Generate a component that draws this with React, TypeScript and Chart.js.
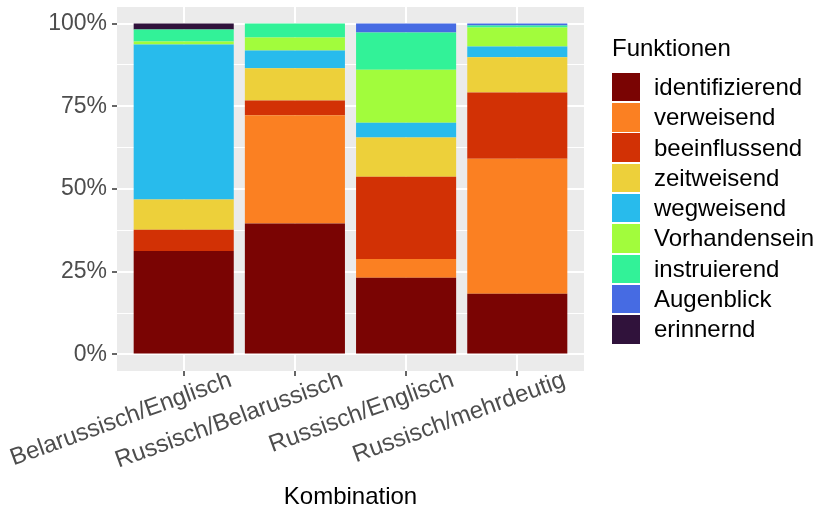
import React, { useEffect, useRef } from 'react';
import { Chart, registerables } from 'chart.js';

Chart.register(...registerables);

const categories = ['Belarussisch/Englisch', 'Russisch/Belarussisch', 'Russisch/Englisch', 'Russisch/mehrdeutig'];
const functionNames = ['identifizierend', 'verweisend', 'beeinflussend', 'zeitweisend', 'wegweisend', 'Vorhandensein', 'instruierend', 'Augenblick', 'erinnernd'];
const functionColors = ['#7A0403', '#FB8022', '#D23105', '#EDD03A', '#28BBEC', '#A2FC3C', '#32F298', '#466BE3', '#30123B'];

// share (%) of each function per combination, bottom to top of the stack
const identifizierend = [31.3, 39.5, 23.1, 18.3];
const verweisend = [0, 32.7, 5.7, 40.8];
const beeinflussend = [6.4, 4.5, 24.8, 20.0];
const zeitweisend = [9.1, 9.7, 11.8, 10.6];
const wegweisend = [46.9, 5.4, 4.5, 3.3];
const vorhandensein = [0.9, 3.9, 16.0, 5.7];
const instruierend = [3.6, 4.2, 11.2, 0.6];
const augenblick = [0, 0, 2.7, 0.6];
const erinnernd = [1.8, 0, 0, 0];

const seriesValues = [identifizierend, verweisend, beeinflussend, zeitweisend, wegweisend, vorhandensein, instruierend, augenblick, erinnernd];

const yMajorTicks = [0, 25, 50, 75, 100];
const yMinorTicks = [12.5, 37.5, 62.5, 87.5];

const FONT = '"Liberation Sans", Arial, Helvetica, sans-serif';

const panelBg = {
  id: 'panelBg',
  beforeDraw(chart: any) {
    const { ctx, chartArea } = chart;
    if (!chartArea) return;
    ctx.save();
    ctx.fillStyle = '#EBEBEB';
    ctx.fillRect(chartArea.left, chartArea.top, chartArea.right - chartArea.left, chartArea.bottom - chartArea.top);
    ctx.restore();
  },
};

export default function App() {
  const canvasRef = useRef<HTMLCanvasElement | null>(null);

  useEffect(() => {
    if (!canvasRef.current) return;
    const totals = categories.map((_, i) => seriesValues.reduce((s, arr) => s + arr[i], 0));
    const datasets = functionNames.map((name, k) => ({
      label: name,
      data: categories.map((_, i) => ({ x: i + 1, y: (seriesValues[k][i] / totals[i]) * 100 })),
      backgroundColor: functionColors[k],
      borderWidth: 0,
      barPercentage: 0.9,
      categoryPercentage: 1,
    }));
    const isMajor = (v: number) => yMajorTicks.includes(v);

    const chart = new Chart(canvasRef.current, {
      type: 'bar',
      data: { datasets },
      plugins: [panelBg],
      options: {
        animation: false,
        responsive: false,
        devicePixelRatio: 1,
        layout: { padding: { left: 0, right: 237, top: 7, bottom: 0 } },
        plugins: { legend: { display: false }, tooltip: { enabled: false } },
        scales: {
          x: {
            type: 'linear',
            stacked: true,
            offset: false,
            min: 0.4,
            max: 4.6,
            afterBuildTicks: (scale: any) => {
              scale.ticks = categories.map((_, i) => ({ value: i + 1 }));
            },
            afterFit: (scale: any) => {
              scale.height = 138;
              scale.paddingLeft = 0;
              scale.paddingRight = 0;
            },
            border: { display: false },
            grid: {
              offset: false,
              color: '#FFFFFF',
              lineWidth: 2,
              tickColor: '#333333',
              tickLength: 5,
              tickWidth: 1.5,
            },
            ticks: {
              autoSkip: false,
              minRotation: 20,
              maxRotation: 20,
              padding: -10,
              labelOffset: 47,
              color: '#4D4D4D',
              font: { family: FONT, size: 24 },
              callback: (v: any) => categories[Math.round(Number(v)) - 1] ?? '',
            },
            title: {
              display: true,
              text: 'Kombination',
              color: '#000000',
              font: { family: FONT, size: 24, lineHeight: 1 },
              padding: { top: 0, bottom: 0 },
            },
          },
          y: {
            type: 'linear',
            stacked: true,
            min: -5,
            max: 105,
            afterBuildTicks: (scale: any) => {
              scale.ticks = [...yMajorTicks, ...yMinorTicks].sort((a, b) => a - b).map((v) => ({ value: v }));
            },
            afterFit: (scale: any) => {
              scale.width = 117;
              scale.paddingTop = 0;
              scale.paddingBottom = 0;
            },
            border: { display: false },
            grid: {
              color: '#FFFFFF',
              lineWidth: (ctx: any) => (ctx.tick && isMajor(ctx.tick.value) ? 2 : 1),
              tickColor: (ctx: any) => (ctx.tick && isMajor(ctx.tick.value) ? '#333333' : 'rgba(0,0,0,0)'),
              tickLength: 5,
              tickWidth: 1.5,
            },
            ticks: {
              autoSkip: false,
              padding: 5,
              color: '#4D4D4D',
              font: { family: FONT, size: 23 },
              callback: (v: any) => (isMajor(Number(v)) ? `${v}%` : ''),
            },
          },
        },
      },
    } as any);
    return () => chart.destroy();
  }, []);

  return (
    <div style={{ position: 'absolute', left: 0, top: 0, width: 821, height: 509, background: '#FFFFFF' }}>
      <canvas ref={canvasRef} width={821} height={509} style={{ position: 'absolute', left: 0, top: 0, width: 821, height: 509 }} />
      <div style={{ position: 'absolute', left: 612, top: 34, fontFamily: FONT, fontSize: 24, lineHeight: '28px', color: '#000' }}>
        Funktionen
      </div>
      {functionNames.map((name, k) => (
        <div key={name} style={{ position: 'absolute', left: 612, top: 72.7 + k * 30.3, height: 28.5, display: 'flex', alignItems: 'center' }}>
          <div style={{ width: 28, height: 28.5, background: functionColors[k] }} />
          <span style={{ marginLeft: 14, fontFamily: FONT, fontSize: 24, lineHeight: '28px', color: '#000', whiteSpace: 'nowrap' }}>{name}</span>
        </div>
      ))}
    </div>
  );
}
